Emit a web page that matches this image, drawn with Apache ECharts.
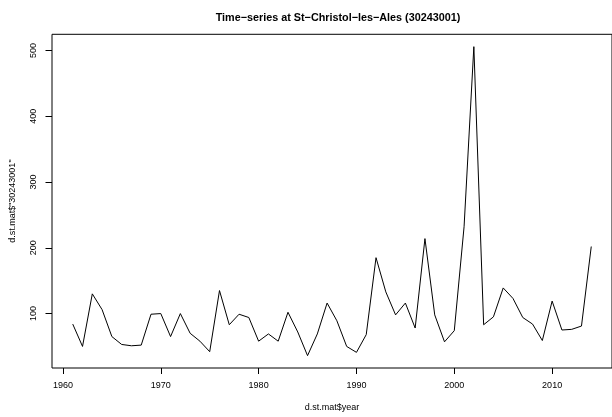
<!DOCTYPE html>
<html>
<head>
<meta charset="utf-8">
<script src="https://cdn.jsdelivr.net/npm/echarts@6/dist/echarts.min.js"></script>
<style>
html,body{margin:0;padding:0;background:#fff;}
#chart{width:612px;height:417px;}
</style>
</head>
<body>
<div id="chart"></div>
<script>
const years = [1961,1962,1963,1964,1965,1966,1967,1968,1969,1970,
  1971,1972,1973,1974,1975,1976,1977,1978,1979,1980,
  1981,1982,1983,1984,1985,1986,1987,1988,1989,1990,
  1991,1992,1993,1994,1995,1996,1997,1998,1999,2000,
  2001,2002,2003,2004,2005,2006,2007,2008,2009,2010,
  2011,2012,2013,2014];
const values = [84,50,130,106,65,53,51,52,99,100,
  65,100,70,58,42,135,83,99,94,58,
  69,58,102,72,36,69,116,89,50,41,
  68,185,133,98,116,78,214,98,57,74,
  232,506,83,95,139,123,94,84,59,119,
  75,76,81,202];
const xTicks = [1960,1970,1980,1990,2000,2010];
const yTicks = [100,200,300,400,500];
const titleText = 'Time\u2212series at St\u2212Christol\u2212les\u2212Ales (30243001)';
const xTitle = 'd.st.mat$year';
const yTitle = 'd.st.mat$"30243001"';

// R-style 4% axis extension
const xr = [Math.min(...years), Math.max(...years)];
const yr = [Math.min(...values), Math.max(...values)];
const xPad = (xr[1]-xr[0])*0.04, yPad = (yr[1]-yr[0])*0.04;

const font = 'Liberation Sans, Arial, Helvetica, sans-serif';
const chart = echarts.init(document.getElementById('chart'), null, {renderer:'canvas'});
chart.setOption({
  animation: false,
  backgroundColor: '#fff',
  title: {
    text: titleText, left: 333, top: 7.5, textAlign: 'center',
    textStyle: {fontFamily: font, fontSize: 10.8, fontWeight: 'bold', color: '#000'}
  },
  grid: {
    left: 50.5, top: 34.3, right: -3.8, bottom: 45.5,
    show: true, borderColor: '#000', borderWidth: 1, backgroundColor: 'transparent',
    containLabel: false
  },
  xAxis: {
    type: 'value', min: xr[0]-xPad, max: xr[1]+xPad,
    axisLine: {show: false},
    splitLine: {show: false},
    axisTick: {show: true, length: 6, lineStyle: {color: '#000', width: 1}, customValues: xTicks},
    axisLabel: {show: true, customValues: xTicks, fontFamily: font, fontSize: 9, color: '#000', margin: 13,
      formatter: v => String(v)},
    name: xTitle, nameLocation: 'middle', nameGap: 35,
    nameTextStyle: {fontFamily: font, fontSize: 9, color: '#000'}
  },
  yAxis: {
    type: 'value', min: yr[0]-yPad, max: yr[1]+yPad,
    axisLine: {show: false},
    splitLine: {show: false},
    axisTick: {show: true, length: 6.5, lineStyle: {color: '#000', width: 1}, customValues: yTicks},
    axisLabel: {show: true, customValues: yTicks, rotate: 90, fontFamily: font, fontSize: 9, color: '#000', margin: 13.5,
      formatter: v => String(v)},
    name: yTitle, nameLocation: 'middle', nameGap: 35, nameRotate: 90,
    nameTextStyle: {fontFamily: font, fontSize: 9, color: '#000'}
  },
  series: [{
    type: 'line',
    data: years.map((y,i) => [y, values[i]]),
    symbol: 'none',
    lineStyle: {color: '#000', width: 1},
    clip: true
  }]
});
</script>
</body>
</html>
